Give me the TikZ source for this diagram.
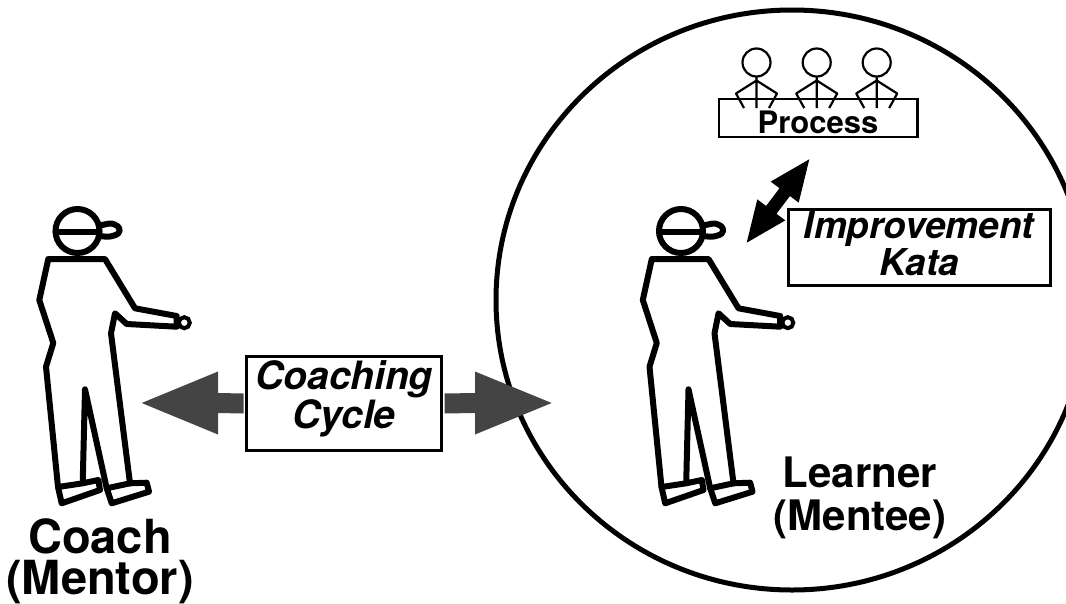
\documentclass[tikz,border=0pt]{standalone}
\usepackage{fontspec}
\setmainfont{TeX Gyre Heros}
\usetikzlibrary{calc}
\definecolor{cyclegray}{HTML}{444444}
\begin{document}
\begin{tikzpicture}[x=1pt,y=-1pt,
  outline/.style={line width=6pt,line join=round,line cap=round},
  labelbox/.style={draw,line width=3pt,fill=white,inner sep=0pt},
  cyclefont/.style={align=center,anchor=base,font=\fontsize{39}{32}\selectfont\bfseries\itshape},
  katafont/.style={align=center,anchor=base,font=\fontsize{37}{37}\selectfont\bfseries\itshape},
  % standing person with a cap, pointing to the right
  person/.pic={
    \draw[outline] (77.5,231) circle[radius=22];
    \draw[outline] (55.5,231.5) -- (99.5,231.5);
    \draw[outline,rounded corners=3pt] (99.5,225.5) -- (112,223) -- (120,227.5)
      -- (119,234) -- (109,237) -- (99.5,236);
    \draw[outline] (48.3,259) -- (105,259) -- (135,308.3) -- (176.7,316)
      -- (176.7,326.7) -- (126.7,324) -- (115,313.3) -- (111,333.3)
      -- (130,483.3) -- (146.7,482.7) -- (149,491.7) -- (111.7,503.3)
      -- (106.7,488.3) -- (85,389.3) -- (82.7,483.3) -- (98.3,480)
      -- (100,490) -- (61.7,503.3) -- (58,487) -- (46,366.7)
      -- (53.3,343) -- (39.3,300) -- cycle;
    \draw[outline] (58,487) -- (82.7,483.3) (106.7,488.3) -- (130,483.3);
    \draw[line width=4pt] (184.3,322.7) circle[radius=5.5];
  },
  % small figure seated behind the process desk
  sitter/.pic={
    \draw[line width=2.2pt] (0,0) circle[radius=14];
    \draw[line width=2.2pt,line join=round] (0,14) -- (0,45.5)
      (0,18) -- (-20.5,31) -- (-12.5,45.5)
      (0,18) -- (20.5,31) -- (12.5,45.5);
  }
]
\clip (0,0) rectangle (1066,603);

% learner's circle
\draw[line width=5pt] (792,300) ellipse[x radius=296, y radius=290];

% coach and learner
\pic (coach) at (0,0) {person};
\pic (learner) at (603.5,0) {person};

% coaching cycle (the base anchor of a two-line node is its last line)
\node[labelbox,minimum width=195pt,minimum height=94pt] (cycle) at (344,403.5) {};
\node[cyclefont] (cycletext) at (344,428) {Coaching\\Cycle};
\coordinate (cyclel) at (141.7,403);
\coordinate (cycler) at (551.7,403);
\fill[cyclegray] ($(cycle.west)+(-1.5,-10)$) -- ($(cyclel)+(76.3,-10)$)
  -- ($(cyclel)+(76.3,-31.5)$) -- (cyclel) -- ($(cyclel)+(76.3,31.5)$)
  -- ($(cyclel)+(76.3,10)$) -- ($(cycle.west)+(-1.5,10)$) -- cycle;
\fill[cyclegray] ($(cycle.east)+(1.5,-10)$) -- ($(cycler)+(-76.7,-10)$)
  -- ($(cycler)+(-76.7,-31.5)$) -- (cycler) -- ($(cycler)+(-76.7,31.5)$)
  -- ($(cycler)+(-76.7,10)$) -- ($(cycle.east)+(1.5,10)$) -- cycle;

% improvement kata double arrow
\coordinate (katalow) at (746.7,242.7);
\coordinate (katahigh) at (809.3,159.3);
\fill (katalow) -- (785.3,220.4) -- (776.5,213.8) -- (789.9,196.0) -- (798.7,202.6)
  -- (katahigh) -- (770.7,181.6) -- (779.5,188.2) -- (766.1,206.0) -- (757.3,199.4) -- cycle;
\node[labelbox,minimum width=262pt,minimum height=75.7pt] (kata) at (919.2,247.3) {};
\node[katafont] (katatext) at (919,275) {Improvement\\Kata};

% process desk with three people
\node[draw,line width=2.5pt,fill=white,inner sep=0pt,minimum width=198.5pt,minimum height=38pt] (process) at (818.3,118) {};
\pic (p1) at (756.5,62.5) {sitter};
\pic (p2) at (816.7,62.5) {sitter};
\pic (p3) at (876.7,62.5) {sitter};
\node[anchor=base,font=\fontsize{31}{31}\selectfont\bfseries] (processtext) at (818,133.3) {Process};

% role labels
\node[align=center,anchor=base,font=\fontsize{47}{41}\selectfont\bfseries] (coachlabel) at (100,594) {Coach\\(Mentor)};
\node[align=center,anchor=base,font=\fontsize{42}{43}\selectfont\bfseries] (learnerlabel) at (860,530) {Learner\\(Mentee)};
\end{tikzpicture}
\end{document}
